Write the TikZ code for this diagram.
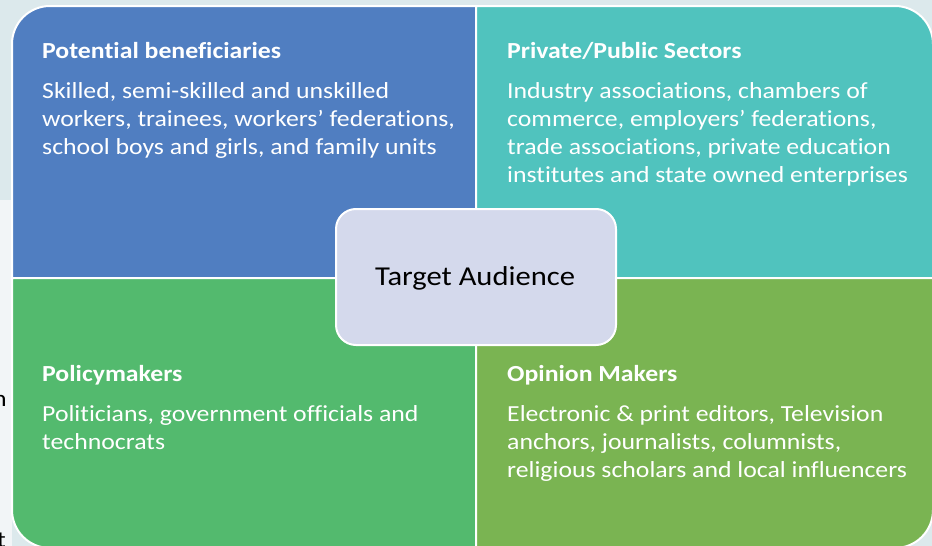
\documentclass[tikz,border=0pt]{standalone}
\usepackage{fontspec}
\setmainfont{Carlito}[Ligatures={NoCommon},FakeStretch=1.12]
\definecolor{bgtop}{RGB}{220,233,236}
\definecolor{bgleft}{RGB}{242,245,247}
\definecolor{qblue}{RGB}{80,126,193}
\definecolor{qteal}{RGB}{80,195,190}
\definecolor{qgreen}{RGB}{83,186,110}
\definecolor{qolive}{RGB}{122,180,82}
\definecolor{qcenter}{RGB}{212,217,236}
\begin{document}
\begin{tikzpicture}[x=1pt,y=-1pt,
  quad/.style={draw=white,line width=2pt},
  ttl/.style={anchor=base west,inner sep=0pt,text=white,font=\fontsize{23}{28}\selectfont\bfseries},
  txt/.style={anchor=base west,inner sep=0pt,text=white,font=\fontsize{23}{28}\selectfont},
  frag/.style={anchor=base west,inner sep=0pt,text=black,font=\fontsize{23}{28}\selectfont}]
\useasboundingbox (0,0) rectangle (932,546);
\fill[bgtop] (0,0) rectangle (932,546);
\fill[bgleft] (0,200) rectangle (12,546);
\node[frag] (f1) at (-7,406) {n};
\node[frag] (f2) at (-3,547) {t};
% quadrants
\path[quad,fill=qblue] (476,278) -- (476,6) -- (50,6) arc[start angle=270,end angle=180,radius=38] -- (12,278) -- cycle;
\path[quad,fill=qteal] (476,278) -- (476,6) -- (895,6) arc[start angle=270,end angle=360,radius=38] -- (933,278) -- cycle;
\path[quad,fill=qgreen] (476,278) -- (476,548) -- (50,548) arc[start angle=90,end angle=180,radius=38] -- (12,278) -- cycle;
\path[quad,fill=qolive] (476,278) -- (476,548) -- (895,548) arc[start angle=90,end angle=0,radius=38] -- (933,278) -- cycle;
% texts
\node[ttl] (t1) at (42,58.5) {Potential beneficiaries};
\node[txt] (b11) at (42,98.7) {Skilled, semi-skilled and unskilled};
\node[txt] (b12) at (42,126.7) {workers, trainees, workers’ federations,};
\node[txt] (b13) at (42,154.7) {school boys and girls, and family units};
\node[ttl] (t2) at (507,58.5) {Private/Public Sectors};
\node[txt] (b21) at (507,98.7) {Industry associations, chambers of};
\node[txt] (b22) at (507,126.7) {commerce, employers’ federations,};
\node[txt] (b23) at (507,154.7) {trade associations, private education};
\node[txt] (b24) at (507,182.7) {institutes and state owned enterprises};
\node[ttl] (t3) at (42,381.7) {Policymakers};
\node[txt] (b31) at (42,421) {Politicians, government officials and};
\node[txt] (b32) at (42,449) {technocrats};
\node[ttl] (t4) at (507,381.7) {Opinion Makers};
\node[txt] (b41) at (507,421) {Electronic \& print editors, Television};
\node[txt] (b42) at (507,449) {anchors, journalists, columnists,};
\node[txt] (b43) at (507,477) {religious scholars and local influencers};
% centre
\node[draw=white,line width=2pt,fill=qcenter,rounded corners=20pt,minimum width=280pt,minimum height=136pt,inner sep=0pt] (c) at (476,277) {};
\node[anchor=base,inner sep=0pt,font=\fontsize{27.3}{30}\selectfont] (ct) at (475,285.5) {Target Audience};
\end{tikzpicture}
\end{document}
